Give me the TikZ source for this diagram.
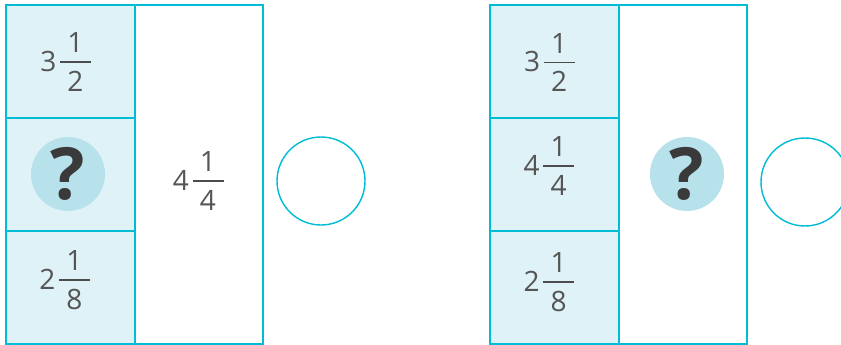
\documentclass[tikz,border=0pt]{standalone}
\usepackage{fontspec}
\setmainfont{Open Sans}
\definecolor{teal}{HTML}{00BCD4}
\definecolor{cellfill}{HTML}{DFF2F7}
\definecolor{qfill}{HTML}{B8E2EB}
\definecolor{txt}{HTML}{555555}
\definecolor{qtxt}{HTML}{3A3A3A}
\tikzset{
  frame/.style={draw=teal, line width=2pt},
  cell/.style={draw=teal, line width=2pt, fill=cellfill},
  num/.style={text=txt, font=\fontsize{28}{28}\selectfont, inner sep=0pt},
  bar/.style={draw=txt!90!black, line width=1.6pt},
  qcirc/.style={circle, fill=qfill, minimum size=74pt, inner sep=0pt},
  qmark/.style={text=qtxt, font=\bfseries\fontsize{72}{72}\selectfont, inner sep=0pt},
  ans/.style={circle, draw=teal, line width=1.4pt, minimum size=88pt, inner sep=0pt}
}
% #1 name, #2 x of bar centre, #3 y of bar, #4 whole, #5 numerator, #6 denominator
\newcommand\mixed[6]{%
  \node[num] (#1w) at (#2-27,#3-1) {#4};
  \coordinate (#1l) at (#2-15.5,#3);
  \coordinate (#1r) at (#2+15.5,#3);
  \draw[bar] (#1l) -- (#1r);
  \node[num] (#1n) at (#2,#3-19) {#5};
  \node[num] (#1d) at (#2,#3+19) {#6};
}
\begin{document}
\begin{tikzpicture}[x=1pt,y=-1pt]
\useasboundingbox (0,0) rectangle (841,345);
% left diagram
\draw[frame, fill=white] (135,5) rectangle (263,344);
\draw[cell] (6,5) rectangle (135,118);
\draw[cell] (6,118) rectangle (135,231);
\draw[cell] (6,231) rectangle (135,344);
\mixed{a}{75.5}{62}{3}{1}{2}
\node[qcirc] (q1) at (68,174) {};
\node[qmark] (m1) at (68,174) {?};
\mixed{b}{208}{181}{4}{1}{4}
\mixed{c}{74.5}{280}{2}{1}{8}
\node[ans] (o1) at (321,181) {};
% right diagram
\draw[frame, fill=white] (619,5) rectangle (747,344);
\draw[cell] (490,5) rectangle (619,118);
\draw[cell] (490,118) rectangle (619,231);
\draw[cell] (490,231) rectangle (619,344);
\mixed{d}{559}{62.5}{3}{1}{2}
\mixed{e}{558.5}{166}{4}{1}{4}
\mixed{f}{558.5}{282}{2}{1}{8}
\node[qcirc] (q2) at (687,174) {};
\node[qmark] (m2) at (687,174) {?};
\begin{scope}
\clip (0,0) rectangle (841,345);
\node[ans] (o2) at (805,182) {};
\end{scope}
\end{tikzpicture}
\end{document}
